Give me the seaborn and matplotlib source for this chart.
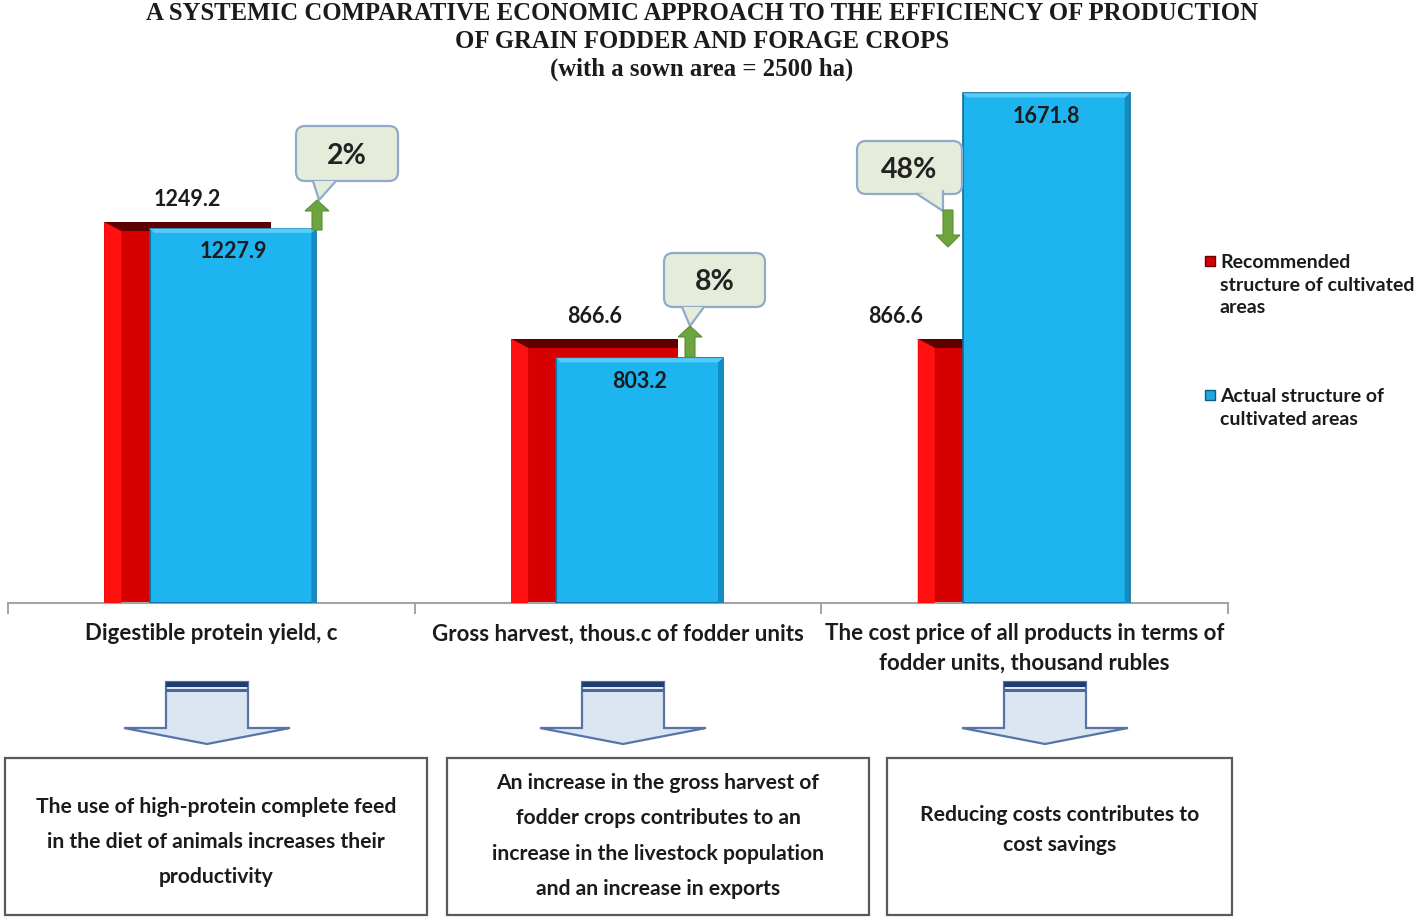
import numpy as np
import pandas as pd
import matplotlib
matplotlib.use("Agg")
import matplotlib.pyplot as plt
import seaborn as sns
from matplotlib.patches import Polygon, Rectangle, FancyBboxPatch, FancyArrow
from matplotlib.lines import Line2D

# -------------------------------
# Data
# -------------------------------
categories = [
    "Digestible protein yield, c",
    "Gross harvest, thous.c of fodder units",
    "The cost price of all products in terms of\nfodder units, thousand rubles",
]
recommended = [1249.2, 866.6, 866.6]
actual = [1227.9, 803.2, 1671.8]
changes = ["2%", "8%", "48%"]
directions = ["up", "up", "down"]
series_names = ["Recommended\nstructure of cultivated\nareas", "Actual structure of\ncultivated areas"]
conclusions = [
    "The use of high-protein complete feed\nin the diet of animals increases their\nproductivity",
    "An increase in the gross harvest of\nfodder crops contributes to an\nincrease in the livestock population\nand an increase in exports",
    "Reducing costs contributes to\ncost savings",
]
title_lines = [
    "A SYSTEMIC COMPARATIVE ECONOMIC APPROACH TO THE EFFICIENCY OF PRODUCTION",
    "OF GRAIN FODDER AND FORAGE CROPS",
    "(with a sown area = 2500 ha)",
]

# -------------------------------
# Style
# -------------------------------
sns.set_theme(style="white")
plt.rcParams['font.family'] = ['Lato', 'DejaVu Sans']

RED_FACE = "#D60000"
RED_SIDE = "#FF1010"
RED_TOP = "#5E0000"
BLUE_FACE = "#1DB4EF"
BLUE_DARK = "#0E6C9C"
TXT = "#1b1b1b"

W, H = 1416, 920
fig = plt.figure(figsize=(W / 100, H / 100), dpi=100)

# main bar axes (pixel box: x 8..1228, y 60..604)
ax = fig.add_axes([8 / W, (H - 604) / H, 1220 / W, 544 / H])

idx = np.arange(len(categories))
df_red = pd.DataFrame({"pos": idx - 0.058, "value": recommended})
df_blue = pd.DataFrame({"pos": idx + 0.053, "value": actual})

sns.barplot(data=df_red, x="pos", y="value", native_scale=True, width=0.41,
            color=RED_FACE, saturation=1, errorbar=None, ax=ax, zorder=2)
sns.barplot(data=df_blue, x="pos", y="value", native_scale=True, width=0.41,
            color=BLUE_FACE, saturation=1, errorbar=None, ax=ax, zorder=5)

red_bars = ax.patches[:3]
blue_bars = ax.patches[3:6]

ax.set_xlim(-0.5, 2.5)
ax.set_ylim(0, 1784)

# fake 3D bevel on the red bars
dx, dy = 0.042, 30
for p in red_bars:
    x0, w, h = p.get_x(), p.get_width(), p.get_height()
    p.set_edgecolor("none")
    ax.add_patch(Polygon([(x0, h), (x0 + w, h), (x0 + w, h - dy), (x0 + dx, h - dy)],
                         closed=True, facecolor=RED_TOP, edgecolor="none", zorder=3))
    ax.add_patch(Polygon([(x0, h), (x0 + dx, h - dy), (x0 + dx, 0), (x0, 0)],
                         closed=True, facecolor=RED_SIDE, edgecolor="none", zorder=3))

# bevel on the blue bars
bx, by = 0.012, 14
for p in blue_bars:
    x0, w, h = p.get_x(), p.get_width(), p.get_height()
    p.set_edgecolor(BLUE_DARK)
    p.set_linewidth(1.2)
    ax.add_patch(Polygon([(x0 + w, h), (x0 + w - bx, h - by), (x0 + w - bx, 0), (x0 + w, 0)],
                         closed=True, facecolor="#138CC4", edgecolor="none", zorder=6))
    ax.add_patch(Polygon([(x0, h), (x0 + w, h), (x0 + w - bx, h - by), (x0 + bx, h - by)],
                         closed=True, facecolor="#55CDF6", edgecolor="none", zorder=6))

# value labels
red_label_dx = [0, 0, -76]
for p, v, ddx in zip(red_bars, recommended, red_label_dx):
    ax.annotate(f"{v:.1f}", (p.get_x() + p.get_width() / 2, v), xytext=(ddx, 17),
                textcoords="offset points", ha="center", va="center",
                fontsize=15.5, fontweight="bold", color=TXT, zorder=8)
for p, v in zip(blue_bars, actual):
    ax.annotate(f"{v:.1f}", (p.get_x() + p.get_width() / 2, v), xytext=(0, -16),
                textcoords="offset points", ha="center", va="center",
                fontsize=15.5, fontweight="bold", color=TXT, zorder=8)

# axis styling
sns.despine(ax=ax, left=True)
ax.spines["bottom"].set_color("#a3a3a3")
ax.spines["bottom"].set_linewidth(1.5)
ax.set_yticks([])
ax.set_xticks(idx)
ax.set_xticklabels(categories, fontsize=16, fontweight="bold", color=TXT, linespacing=1.5)
ax.set_xticks(np.arange(len(categories) + 1) - 0.5, minor=True)
ax.tick_params(axis="x", which="major", length=0, pad=14)
ax.tick_params(axis="x", which="minor", length=8, width=1.4, color="#a3a3a3", direction="out", bottom=True)
ax.set_xlabel("")
ax.set_ylabel("")

# -------------------------------
# Overlay in pixel coordinates
# -------------------------------
ov = fig.add_axes([0, 0, 1, 1], zorder=10)
ov.set_xlim(0, W)
ov.set_ylim(H, 0)
ov.axis("off")
ov.patch.set_alpha(0)

# title
for txt, ty in zip(title_lines, [13, 41, 69]):
    ov.text(702, ty, txt, ha="center", va="center", fontsize=17.8, fontweight="bold",
            family=["Liberation Serif", "DejaVu Serif"], color=TXT)

# callouts with green arrows
callout_boxes = [(296, 127, 102, 55), (664, 254, 101, 54), (857, 142, 105, 53)]
callout_tails = [[(313, 182), (336, 182), (319, 201)],
                 [(682, 308), (704, 308), (690, 327)],
                 [(917, 195), (943, 192), (943, 212)]]
green_arrows = [(317, 231, 201), (690, 358, 327), (948, 211, 248)]
for (bx0, by0, bw, bh), tail, (gx, gy0, gy1), txt in zip(callout_boxes, callout_tails, green_arrows, changes):
    box = FancyBboxPatch((bx0, by0), bw, bh, boxstyle="round,pad=0,rounding_size=9",
                         facecolor="#E5ECDA", edgecolor="#90AACB", linewidth=1.6, zorder=3)
    ov.add_patch(box)
    ov.add_patch(Polygon(tail, closed=True, facecolor="#E5ECDA", edgecolor="none", zorder=4))
    ov.add_line(Line2D([tail[0][0], tail[2][0], tail[1][0]], [tail[0][1], tail[2][1], tail[1][1]],
                       color="#90AACB", linewidth=1.6, zorder=4))
    ov.text(bx0 + bw / 2, by0 + bh / 2 + 1, txt, ha="center", va="center", fontsize=20.5,
            fontweight="bold", color="#222222", zorder=5)
    length = gy1 - gy0
    head = 11 if length < 0 else 12
    ov.add_patch(FancyArrow(gx, gy0, 0, length, width=10, head_width=24,
                            head_length=head, length_includes_head=True,
                            facecolor="#6EA43F", edgecolor="#5C8F33",
                            linewidth=0.8, zorder=6))

# legend (manual, marker at the first text line)
legend_rows = [(262, RED_FACE, "#6a0000"), (396, "#22A6E2", "#0c5c88")]
for (ly, fc, ec), name in zip(legend_rows, series_names):
    ov.add_patch(Rectangle((1205, ly - 5), 10, 10, facecolor=fc, edgecolor=ec, linewidth=1))
    ov.text(1220, ly - 8, name, ha="left", va="top", fontsize=14, fontweight="bold",
            color=TXT, linespacing=1.41)

# down arrows under each category
for cx in [207, 623, 1045]:
    shape = [(cx - 41, 683), (cx + 41, 683), (cx + 41, 729), (cx + 83, 729), (cx, 745),
             (cx - 83, 729), (cx - 41, 729)]
    ov.add_patch(Polygon(shape, closed=True, facecolor="#DCE6F2", edgecolor="#5675A6", linewidth=1.6))
    ov.add_patch(Rectangle((cx - 41, 683), 82, 5, facecolor="#1F3D70", edgecolor="none"))
    ov.add_patch(Rectangle((cx - 41, 690), 82, 2.5, facecolor="#48699C", edgecolor="none"))

# conclusion boxes
boxes = [(5, 759, 422, 157), (447, 759, 422, 157), (887, 759, 345, 157)]
text_y = [842, 836, 830]
line_gaps = [1.94, 1.94, 1.67]
for (x0, y0, bw, bh), txt, ty, ls in zip(boxes, conclusions, text_y, line_gaps):
    ov.add_patch(Rectangle((x0, y0), bw, bh, facecolor="none", edgecolor="#5a5a5a", linewidth=1.6))
    ov.text(x0 + bw / 2, ty, txt, ha="center", va="center", fontsize=15.2,
            fontweight="bold", color=TXT, linespacing=ls)

fig.savefig("out.png", dpi=100)
